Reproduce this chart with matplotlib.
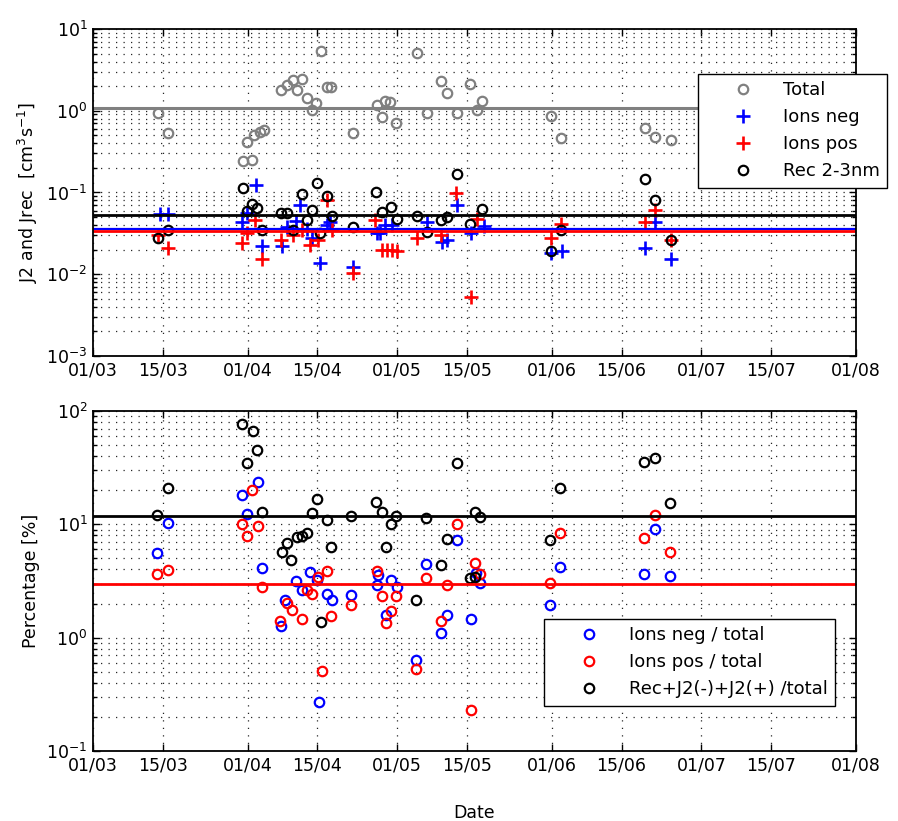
import datetime as dt

import matplotlib
matplotlib.use("Agg")
import matplotlib.pyplot as plt
import matplotlib.dates as mdates
from matplotlib.ticker import LogLocator, NullFormatter

plt.rcParams["font.family"] = ["DejaVu Sans"]

# ---- measurement days (days after 01/03) and values -------------------------
START = dt.datetime(2011, 3, 1)

# upper panel: formation rates [cm^-3 s^-1]
total_day = [13.1, 15.0, 30.0, 30.9, 31.9, 32.3, 33.5, 34.2, 37.6, 38.9, 40.1,
             41.0, 41.9, 42.9, 43.9, 44.8, 45.7, 46.9, 47.8, 52.1, 57.0, 58.0,
             58.6, 59.6, 60.8, 65.0, 67.0, 69.8, 70.9, 72.9, 75.6, 77.0, 78.0,
             91.9, 93.8, 110.6, 112.7, 116.0]
total_val = [0.95, 0.53, 0.24, 0.42, 0.25, 0.50, 0.55, 0.58, 1.8, 2.07, 2.38,
             1.8, 2.44, 1.42, 1.02, 1.23, 5.4, 1.97, 1.97, 0.53, 1.17, 0.85,
             1.31, 1.27, 0.71, 5.1, 0.93, 2.31, 1.63, 0.93, 2.12, 1.02, 1.32,
             0.87, 0.46, 0.61, 0.48, 0.44]

neg_day = [13.5, 15.0, 29.9, 30.9, 32.7, 33.9, 37.9, 39.0, 40.8, 41.6, 42.9,
           43.9, 45.6, 46.9, 47.6, 52.1, 57.0, 57.6, 58.6, 60.0, 67.0, 70.0,
           71.0, 72.9, 75.7, 78.4, 91.9, 94.1, 110.6, 112.7, 115.9]
neg_val = [0.055, 0.055, 0.044, 0.056, 0.124, 0.022, 0.022, 0.038, 0.045,
           0.070, 0.036, 0.028, 0.0136, 0.040, 0.044, 0.0124, 0.032, 0.032,
           0.040, 0.040, 0.043, 0.025, 0.026, 0.070, 0.032, 0.039, 0.018,
           0.019, 0.0207, 0.043, 0.0152]

pos_day = [13.1, 15.0, 29.9, 30.9, 32.5, 33.9, 37.6, 40.1, 41.9, 43.6, 45.2,
           46.9, 47.9, 52.1, 56.6, 58.0, 59.0, 60.0, 61.0, 65.0, 69.7, 72.7,
           75.7, 77.0, 91.9, 93.9, 110.6, 112.7, 116.0]
pos_val = [0.030, 0.0207, 0.024, 0.032, 0.046, 0.0152, 0.026, 0.030, 0.035,
           0.0228, 0.026, 0.081, 0.035, 0.0103, 0.046, 0.0198, 0.0198, 0.0198,
           0.019, 0.0275, 0.030, 0.098, 0.0052, 0.048, 0.028, 0.041, 0.044,
           0.061, 0.026]

rec_day = [13.1, 15.0, 30.0, 30.9, 31.9, 32.9, 33.9, 37.6, 39.0, 40.1, 41.9,
           42.9, 43.9, 44.9, 45.6, 46.9, 47.9, 52.1, 56.8, 58.0, 59.8, 61.0,
           65.0, 67.0, 69.8, 70.9, 72.9, 75.6, 78.0, 91.9, 93.8, 110.6, 112.7,
           116.0]
rec_val = [0.028, 0.035, 0.112, 0.060, 0.072, 0.064, 0.035, 0.056, 0.056,
           0.035, 0.096, 0.046, 0.061, 0.13, 0.032, 0.091, 0.051, 0.038, 0.10,
           0.058, 0.066, 0.048, 0.051, 0.033, 0.046, 0.050, 0.168, 0.041,
           0.062, 0.019, 0.035, 0.146, 0.081, 0.026]

# campaign means drawn as horizontal reference lines
mean_total = 1.08
mean_rec = 0.0526
mean_neg = 0.036
mean_pos = 0.034

# lower panel: fractions of the total rate [%]
fneg_day = [12.8, 15.1, 29.9, 30.9, 33.0, 33.9, 37.7, 38.6, 40.8, 41.9, 43.6,
            44.9, 45.4, 46.9, 47.9, 51.7, 57.1, 57.0, 58.8, 59.8, 61.0, 64.7,
            66.7, 69.8, 70.9, 72.9, 75.7, 76.9, 77.7, 91.6, 93.6, 110.4, 112.7,
            115.7]
fneg_val = [5.6, 10.2, 18.2, 12.3, 23.5, 4.1, 1.27, 2.15, 3.18, 2.63, 3.82,
            3.23, 0.27, 2.43, 2.15, 2.38, 3.6, 2.92, 1.58, 3.23, 2.82, 0.64,
            4.43, 1.11, 1.58, 7.28, 1.45, 3.74, 3.02, 1.94, 4.22, 3.65, 9.1,
            3.5]

fpos_day = [12.8, 15.1, 29.9, 30.9, 31.9, 33.0, 33.9, 37.4, 38.9, 40.0, 41.9,
            42.9, 43.9, 45.2, 45.9, 46.9, 47.7, 51.7, 57.0, 58.0, 58.8, 59.8,
            60.8, 64.7, 66.7, 69.8, 70.9, 72.9, 75.7, 76.7, 77.7, 91.6, 93.6,
            110.4, 112.7, 115.7]
fpos_val = [3.65, 3.96, 10.1, 7.94, 20.1, 9.7, 2.78, 1.41, 2.01, 1.75, 1.45,
            2.63, 2.43, 3.45, 0.51, 3.87, 1.56, 1.94, 3.85, 2.33, 1.36, 1.73,
            2.33, 0.53, 3.34, 1.41, 2.92, 10.1, 0.23, 4.53, 3.65, 3.06, 8.4,
            7.6, 12.2, 5.7]

frec_day = [12.8, 15.1, 29.9, 30.9, 32.0, 32.8, 33.9, 37.8, 38.9, 39.7, 40.9,
            41.9, 42.9, 43.9, 44.9, 45.8, 46.9, 47.8, 51.7, 56.7, 58.0, 58.8,
            59.8, 60.8, 64.7, 66.7, 69.8, 70.9, 72.9, 75.6, 76.5, 76.7, 77.7,
            91.6, 93.6, 110.4, 112.7, 115.7]
frec_val = [12.1, 20.8, 76.8, 34.5, 66.7, 45.3, 12.9, 5.7, 6.8, 4.85, 7.8, 7.9,
            8.4, 12.5, 16.6, 1.38, 10.9, 6.3, 11.9, 15.9, 12.9, 6.35, 10.1,
            11.9, 2.15, 11.3, 4.37, 7.4, 34.5, 3.35, 3.45, 12.9, 11.7, 7.3,
            20.8, 35.7, 38.3, 15.4]

mean_frec = 11.8
mean_fpos = 3.0

x_end_day = 153  # 01/08


def to_dates(days):
    return [START + dt.timedelta(days=d) for d in days]


# ---- styling helpers ----------------------------------------------------------
GRID = dict(color="0.15", linewidth=0.9, linestyle=(0, (1, 5)))
CIRC = dict(linestyle="none", marker="o", mfc="none", ms=6.8, mew=1.6)
PLUS = dict(linestyle="none", marker="+", ms=9.5, mew=1.9)
FS = 12.5


def style_axes(ax, ymin, ymax):
    ax.set_yscale("log")
    ax.set_ylim(ymin, ymax)
    ax.set_xlim(START, START + dt.timedelta(days=x_end_day))
    ax.xaxis.set_major_locator(mdates.DayLocator(bymonthday=[1, 15]))
    ax.xaxis.set_major_formatter(mdates.DateFormatter("%d/%m"))
    ax.yaxis.set_major_locator(LogLocator(base=10, numticks=12))
    ax.yaxis.set_minor_locator(LogLocator(base=10, subs=range(2, 10), numticks=12))
    ax.yaxis.set_minor_formatter(NullFormatter())
    ax.grid(True, which="major", axis="x", **GRID)
    ax.grid(True, which="both", axis="y", **GRID)
    ax.tick_params(which="both", direction="in", top=True, right=True,
                   labelsize=FS, width=1.0, pad=4)
    ax.tick_params(which="major", length=5)
    ax.tick_params(which="minor", length=3)
    for sp in ax.spines.values():
        sp.set_linewidth(1.3)
    ax.set_axisbelow(True)


fig = plt.figure(figsize=(8.98, 8.21), dpi=100)
ax1 = fig.add_axes([93 / 898, 1 - 356 / 821, 763 / 898, 327 / 821])
ax2 = fig.add_axes([93 / 898, 1 - 751 / 821, 763 / 898, 340 / 821])

# ---- upper panel --------------------------------------------------------------
h_tot, = ax1.plot(to_dates(total_day), total_val, mec="0.5", label="Total", **CIRC)
h_neg, = ax1.plot(to_dates(neg_day), neg_val, color="blue", label="Ions neg", **PLUS)
h_pos, = ax1.plot(to_dates(pos_day), pos_val, color="red", label="Ions pos", **PLUS)
h_rec, = ax1.plot(to_dates(rec_day), rec_val, mec="black", label="Rec 2-3nm", **CIRC)
ax1.axhline(mean_total, color="0.5", lw=2.2)
ax1.axhline(mean_rec, color="black", lw=2.0)
ax1.axhline(mean_neg, color="blue", lw=1.6)
ax1.axhline(mean_pos, color="red", lw=2.0)
style_axes(ax1, 1e-3, 1e1)
ax1.set_ylabel("J2 and Jrec  [cm$^3$s$^{-1}$]", fontsize=FS)
ax1.yaxis.set_label_coords(-0.069, 0.5)

leg1 = ax1.legend(handles=[h_tot, h_neg, h_pos, h_rec], loc="upper left",
                  bbox_to_anchor=(698 / 898, 1 - 74 / 821),
                  bbox_transform=fig.transFigure, borderaxespad=0,
                  fontsize=13, handlelength=4.2, handletextpad=0.1,
                  borderpad=0.4, labelspacing=0.5, fancybox=False,
                  framealpha=1, edgecolor="black", numpoints=1)
leg1.get_frame().set_linewidth(1.0)

# ---- lower panel --------------------------------------------------------------
g_neg, = ax2.plot(to_dates(fneg_day), fneg_val, mec="blue", label="Ions neg / total", **CIRC)
g_pos, = ax2.plot(to_dates(fpos_day), fpos_val, mec="red", label="Ions pos / total", **CIRC)
g_rec, = ax2.plot(to_dates(frec_day), frec_val, mec="black",
                  label="Rec+J2(-)+J2(+) /total", **CIRC)
ax2.axhline(mean_frec, color="black", lw=2.0)
ax2.axhline(mean_fpos, color="red", lw=2.0)
style_axes(ax2, 1e-1, 1e2)
ax2.set_ylabel("Percentage [%]", fontsize=FS)
ax2.yaxis.set_label_coords(-0.069, 0.5)
ax2.set_xlabel("Date", fontsize=FS)
ax2.xaxis.set_label_coords(0.5, -0.155)

leg2 = ax2.legend(handles=[g_neg, g_pos, g_rec], loc="upper left",
                  bbox_to_anchor=(544 / 898, 1 - 619 / 821),
                  bbox_transform=fig.transFigure, borderaxespad=0,
                  fontsize=13, handlelength=4.2, handletextpad=0.1,
                  borderpad=0.4, labelspacing=0.5, fancybox=False,
                  framealpha=1, edgecolor="black", numpoints=1)
leg2.get_frame().set_linewidth(1.0)

fig.savefig("out.png", dpi=100, facecolor="white")
